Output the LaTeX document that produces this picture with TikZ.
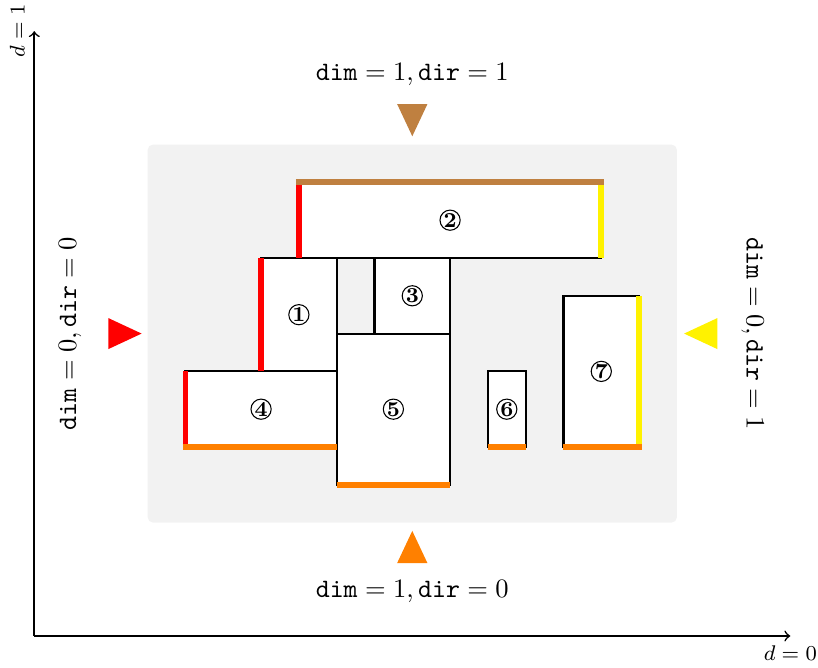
\documentclass[tikz,border=0pt]{standalone}
\begin{document}
\begin{tikzpicture}[x=0.5cm,y=0.5cm,
  box/.style={fill=white,draw=black,thick},
  edgeline/.style={line width=2.2pt},
  num/.style={circle,draw,line width=0.4pt,inner sep=0pt,minimum size=7.6pt,font=\footnotesize\bfseries},
  axisline/.style={semithick,->},
  axislabel/.style={font=\footnotesize}]
\useasboundingbox (-4.907,-5.821) rectangle (16.733,11.825);
% background
\fill[black!5, rounded corners=2pt] (-1,-2) rectangle (13,8);
% boxes
\draw[box] (2,2) rectangle (4,5);
\draw[box] (3,5) rectangle (11,7);
\draw[box] (5,3) rectangle (7,5);
\draw[box] (0,0) rectangle (4,2);
\draw[box] (4,-1) rectangle (7,3);
\draw[box] (8,0) rectangle (9,2);
\draw[box] (10,0) rectangle (12,4);
% coloured edges
\draw[edgeline,red] (0,0)--(0,2) (2,2)--(2,5) (3,5)--(3,7);
\draw[edgeline,yellow] (11,5)--(11,7) (12,0)--(12,4);
\draw[edgeline,orange] (-0.078,0)--(4,0) (4,-1)--(7,-1) (8,0)--(9,0) (10,0)--(12.078,0);
\draw[edgeline,brown] (2.922,7)--(11.078,7);
% numbers
\node[num] (n1) at (3,3.5) {1};
\node[num] (n2) at (7,6) {2};
\node[num] (n3) at (6,4) {3};
\node[num] (n4) at (2,1) {4};
\node[num] (n5) at (5.5,1) {5};
\node[num] (n6) at (8.5,1) {6};
\node[num] (n7) at (11,2) {7};
% triangles
\fill[brown] (5.6,9.07)--(6.4,9.07)--(6,8.22)--cycle;
\fill[orange] (5.6,-3.07)--(6.4,-3.07)--(6,-2.22)--cycle;
\fill[red] (-2.04,3.41)--(-2.04,2.59)--(-1.16,3)--cycle;
\fill[yellow] (14.07,3.41)--(14.07,2.59)--(13.19,3)--cycle;
% labels
\node (ltop) at (6,9.85) {$\texttt{dim}=1,\texttt{dir}=1$};
\node (lbot) at (6,-3.82) {$\texttt{dim}=1,\texttt{dir}=0$};
\node[rotate=90] (lleft) at (-3.05,3) {$\texttt{dim}=0,\texttt{dir}=0$};
\node[rotate=-90] (lright) at (15.0,3) {$\texttt{dim}=0,\texttt{dir}=1$};
% axes
\coordinate (O) at (-4,-5);
\coordinate (X) at (16,-5);
\coordinate (Y) at (-4,11);
\draw[axisline] (O)--(X) node[below,axislabel] (dx) {$d=0$};
\draw[axisline] (O)--(Y) node[rotate=90,anchor=south,axislabel] (dy) {$d=1$};
\end{tikzpicture}
\end{document}
